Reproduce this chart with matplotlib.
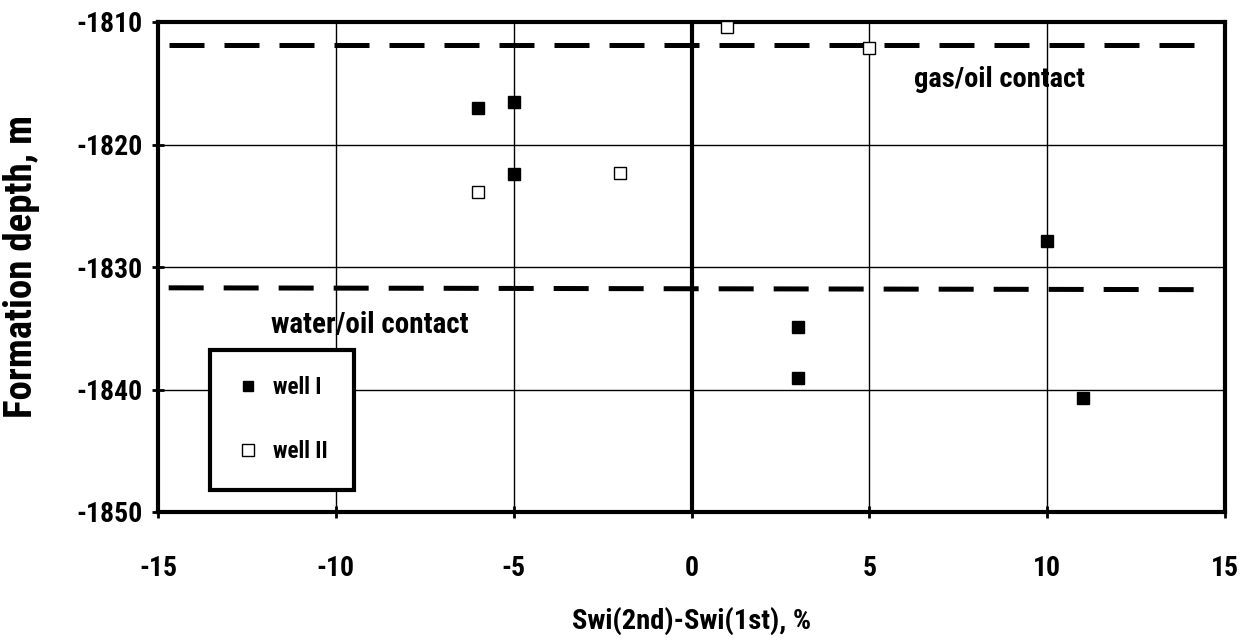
import matplotlib
matplotlib.use("Agg")
import matplotlib.pyplot as plt
from matplotlib.lines import Line2D

plt.rcParams['font.family'] = ['Roboto Condensed', 'DejaVu Sans']
plt.rcParams['font.weight'] = 'bold'
plt.rcParams['axes.labelweight'] = 'bold'
plt.rcParams['axes.unicode_minus'] = False

# well I (filled squares)
well1_x = [-6, -5, -5, 3, 3, 10, 11]
well1_y = [-1817.0, -1816.5, -1822.4, -1834.9, -1839.1, -1827.9, -1840.7]

# well II (open squares)
well2_x = [-6, -2, 1, 5]
well2_y = [-1823.9, -1822.3, -1810.4, -1812.1]

# fluid contacts
gas_oil_depth = -1811.9
water_oil_depth = -1831.7

fig = plt.figure(figsize=(12.51, 6.42), dpi=100)
ax = fig.add_axes([158 / 1251, 130 / 642, 1067 / 1251, 490 / 642])

ax.set_xlim(-15, 15)
ax.set_ylim(-1850, -1810)
ax.set_xticks([-15, -10, -5, 0, 5, 10, 15])
ax.set_yticks([-1850, -1840, -1830, -1820, -1810])
ax.grid(True, color='black', linewidth=1.0)
ax.axvline(0, color='black', linewidth=3)

for s in ax.spines.values():
    s.set_linewidth(3)
ax.tick_params(direction='inout', length=8, width=2, labelsize=20)
ax.tick_params(axis='x', pad=27)
ax.tick_params(axis='y', pad=7)

# contact lines
ax.plot([-14.7, 14.7], [gas_oil_depth, gas_oil_depth], color='black',
        linewidth=3.6, dashes=(7, 4))
ax.plot([-14.7, 14.6], [water_oil_depth, water_oil_depth - 0.15], color='black',
        linewidth=3.6, dashes=(7, 4))

ax.plot(well1_x, well1_y, 's', color='black', markersize=8, linestyle='none',
        clip_on=False, zorder=5)
ax.plot(well2_x, well2_y, 's', markerfacecolor='white', markeredgecolor='black',
        markeredgewidth=1.0, markersize=9, linestyle='none', clip_on=False, zorder=5)

ax.text(8.66, -1814.7, 'gas/oil contact', ha='center', va='center', fontsize=20.5)
ax.text(-9.05, -1834.7, 'water/oil contact', ha='center', va='center', fontsize=21)

handles = [
    Line2D([], [], marker='s', color='black', linestyle='none', markersize=7),
    Line2D([], [], marker='s', markerfacecolor='white', markeredgecolor='black',
           linestyle='none', markersize=8, markeredgewidth=1.0),
]
leg = ax.legend(handles, ['well I', 'well II'], loc='upper left',
                bbox_to_anchor=(0.0487, 0.331), frameon=True, fancybox=False,
                edgecolor='black', fontsize=16.5, labelspacing=1.8,
                borderpad=1.15, handlelength=1.0, handletextpad=0.6,
                borderaxespad=0)
leg.get_frame().set_linewidth(3)
leg.get_frame().set_alpha(1)

ax.set_xlabel('Swi(2nd)-Swi(1st), %', fontsize=20.5)
ax.set_ylabel('Formation depth, m', fontsize=28)
ax.xaxis.label.set_va('center')
ax.yaxis.label.set_va('center')
ax.xaxis.set_label_coords(0.5, -0.222)
ax.yaxis.set_label_coords(-0.1275, 0.5)

fig.savefig('out.png', dpi=100)
